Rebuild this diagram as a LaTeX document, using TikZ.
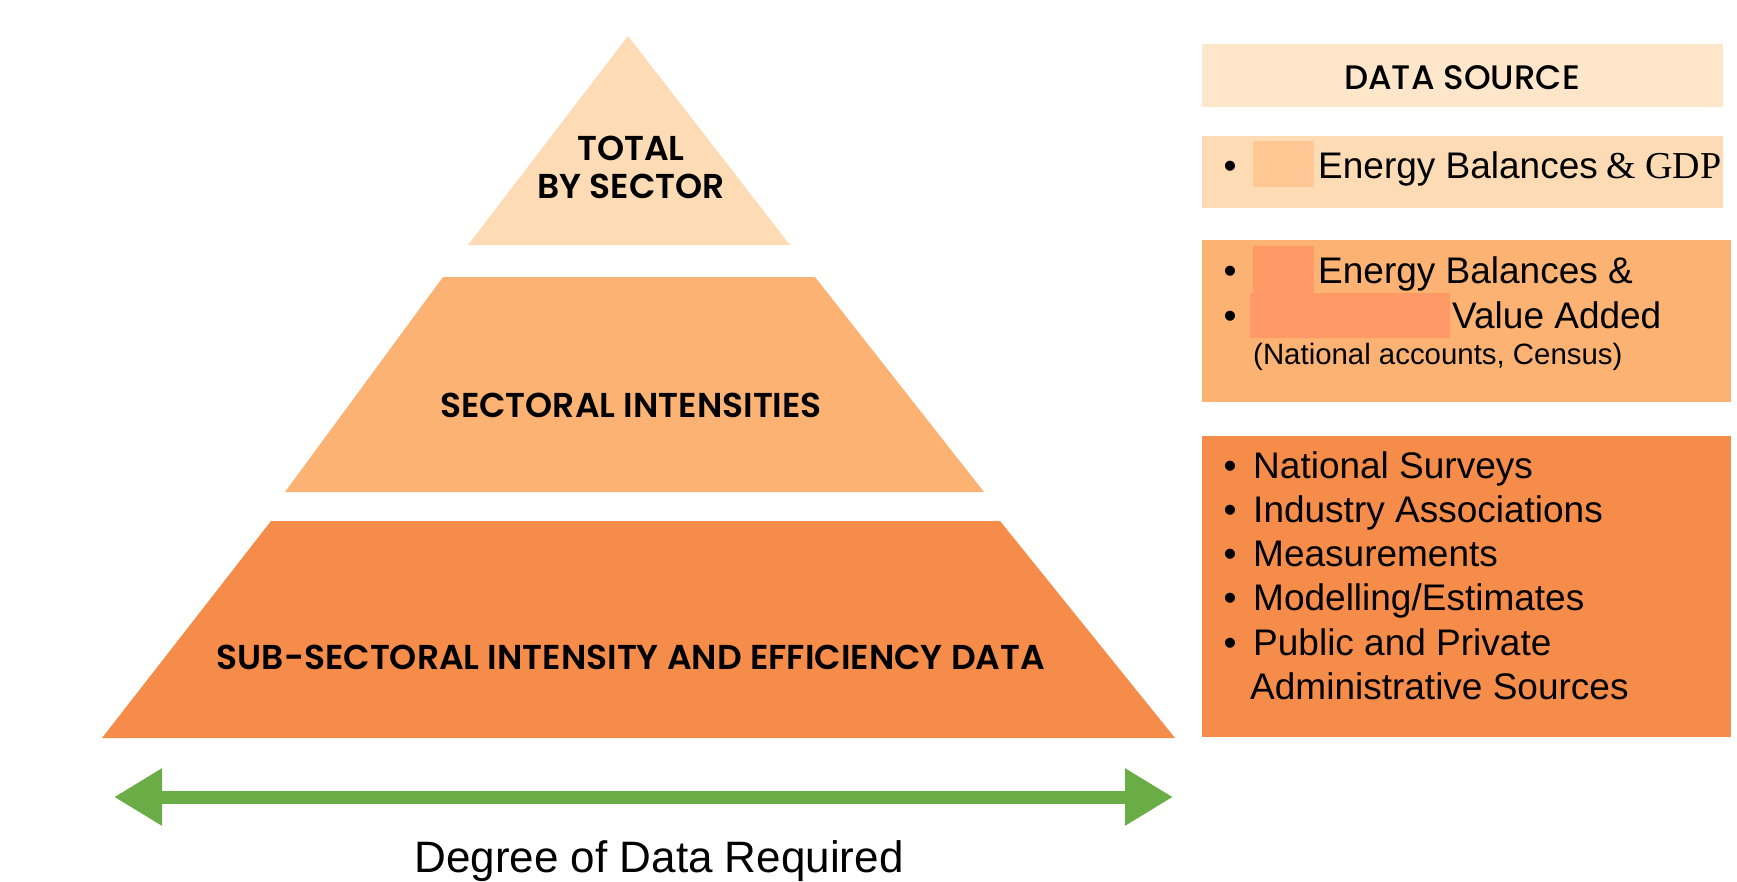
\documentclass[tikz,border=0pt]{standalone}
\usepackage{fontspec}
\setmainfont{Liberation Sans}
\usetikzlibrary{arrows.meta}
\IfFontExistsTF{Poppins SemiBold}{\newfontfamily\popsb{Poppins SemiBold}}{\newfontfamily\popsbX{Poppins}\newcommand\popsb{\popsbX\bfseries}}
\IfFontExistsTF{Poppins Medium}{\newfontfamily\popmd{Poppins Medium}}{\newfontfamily\popmd{Poppins}}
\newfontfamily\timesf{Liberation Serif}
\definecolor{peachA}{HTML}{FDE6CA}
\definecolor{peachB}{HTML}{FDDBB4}
\definecolor{orangeB}{HTML}{FBB273}
\definecolor{orangeC}{HTML}{F68C4A}
\definecolor{redactA}{HTML}{FFC894}
\definecolor{redactB}{HTML}{FF9966}
\definecolor{arrowgreen}{HTML}{6AAD47}
\tikzset{
  lvl/.style={anchor=base, inner sep=0pt, font=\popsb\fontsize{34.5}{38}\selectfont, align=center},
  hdr/.style={anchor=base, inner sep=0pt, font=\popmd\fontsize{34}{38}\selectfont},
  item/.style={anchor=base west, inner sep=0pt, font=\fontsize{37}{44}\selectfont},
  small/.style={anchor=base west, inner sep=0pt, font=\fontsize{29.4}{35}\selectfont},
  bul/.style={anchor=base, inner sep=0pt, font=\fontsize{37}{44}\selectfont},
}
\begin{document}
\begin{tikzpicture}[x=1pt,y=-1pt]
\useasboundingbox (0,0) rectangle (1737,881);
% pyramid
\fill[peachB] (628,36) -- (790,245) -- (468,245) -- cycle;
\fill[orangeB] (443,277) -- (815,277) -- (984,492) -- (285,492) -- cycle;
\fill[orangeC] (271,521) -- (1000,521) -- (1175,738) -- (102,738) -- cycle;
\node[lvl] (top1) at (631,160) {TOTAL};
\node[lvl] (top2) at (631,198) {BY SECTOR};
\node[lvl] (mid) at (631,417) {SECTORAL INTENSITIES};
\node[lvl] (bot) at (631,669) {SUB-SECTORAL INTENSITY AND EFFICIENCY DATA};
% arrow
\coordinate (aL) at (114,797);
\coordinate (aR) at (1173,797);
\draw[arrowgreen, line width=13pt, {Triangle[length=48pt,width=54pt]}-{Triangle[length=48pt,width=54pt]}] (aL) -- (aR);
\node[anchor=base, inner sep=0pt, font=\fontsize{44}{50}\selectfont] (deg) at (659,872) {Degree of Data Required};
% right boxes
\fill[peachA] (1202,44) rectangle (1723,107);
\node[hdr] (ds) at (1462,89) {DATA SOURCE};
\fill[peachB] (1202,136) rectangle (1723,208);
\fill[redactA] (1253,141) rectangle (1314,187);
\node[bul] (b2a) at (1230,178) {•};
\node[item] (t2a) at (1318,178) {Energy Balances};
\node[anchor=base west, inner sep=0pt, font=\timesf\fontsize{38}{44}\selectfont] (t2b) at (1606,178) {\& GDP};
\fill[orangeB] (1202,240) rectangle (1731,402);
\fill[redactB] (1253,246) rectangle (1314,293);
\fill[redactB] (1250,293) rectangle (1450,338);
\node[bul] (b3a) at (1230,283) {•};
\node[item] (t3a) at (1318,283) {Energy Balances \&};
\node[bul] (b3b) at (1230,328) {•};
\node[item] (t3b) at (1452,328) {Value Added};
\node[small] (t3c) at (1253,364) {(National accounts, Census)};
\fill[orangeC] (1202,436) rectangle (1731,737);
\node[bul] (b4a) at (1230,478) {•};
\node[item] (t4a) at (1253,478) {National Surveys};
\node[bul] (b4b) at (1230,522) {•};
\node[item] (t4b) at (1253,522) {Industry Associations};
\node[bul] (b4c) at (1230,566) {•};
\node[item] (t4c) at (1253,566) {Measurements};
\node[bul] (b4d) at (1230,610) {•};
\node[item] (t4d) at (1253,610) {Modelling/Estimates};
\node[bul] (b4e) at (1230,655) {•};
\node[item] (t4e) at (1253,655) {Public and Private};
\node[item] (t4f) at (1250,699) {Administrative Sources};
\end{tikzpicture}
\end{document}
